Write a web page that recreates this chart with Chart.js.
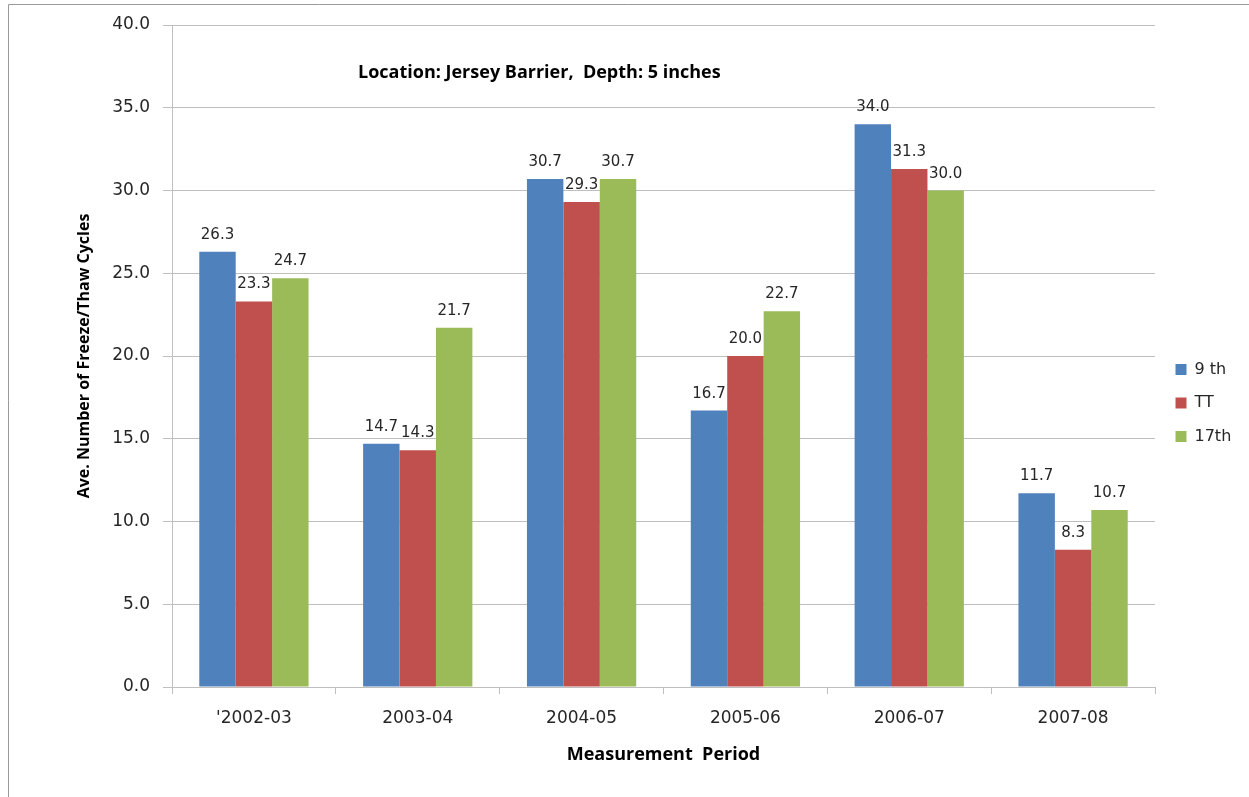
<!DOCTYPE html>
<html>
<head>
<meta charset="utf-8">
<script src="https://cdn.jsdelivr.net/npm/chart.js@4.4.1/dist/chart.umd.min.js"></script>
<style>
  html, body { margin: 0; padding: 0; background: #ffffff; }
  #wrap { position: relative; width: 1249px; height: 797px; }
</style>
</head>
<body>
<div id="wrap"><canvas id="c"></canvas></div>
<script>
const categories = ["'2002-03", "2003-04", "2004-05", "2005-06", "2006-07", "2007-08"];
const series9th = [26.3, 14.7, 30.7, 16.7, 34.0, 11.7];
const seriesTT = [23.3, 14.3, 29.3, 20.0, 31.3, 8.3];
const series17th = [24.7, 21.7, 30.7, 22.7, 30.0, 10.7];
const seriesNames = ["9 th", "TT", "17th"];
const yTicks = [0, 5, 10, 15, 20, 25, 30, 35, 40];
const chartNote = "Location: Jersey Barrier,  Depth: 5 inches";
const yTitle = "Ave. Number of Freeze/Thaw Cycles";
const xTitle = "Measurement  Period";

const TEXT = '#262626';
const GRID = '#bfbfbf';

const frame = {
  id: 'frame',
  beforeDraw(chart) {
    const ctx = chart.ctx;
    ctx.save();
    ctx.strokeStyle = '#9a9a9a';
    ctx.lineWidth = 1;
    ctx.beginPath();
    ctx.moveTo(8.5, 797);
    ctx.lineTo(8.5, 4.5);
    ctx.lineTo(1249, 4.5);
    ctx.stroke();
    ctx.restore();
  }
};

const note = {
  id: 'note',
  afterDraw(chart) {
    const ctx = chart.ctx;
    ctx.save();
    ctx.font = 'bold 18px "Open Sans"';
    ctx.fillStyle = '#000000';
    ctx.textAlign = 'left';
    ctx.textBaseline = 'middle';
    ctx.fillText(chartNote, 358, 73);
    ctx.restore();
  }
};

const valueLabels = {
  id: 'valueLabels',
  afterDatasetsDraw(chart) {
    const ctx = chart.ctx;
    ctx.save();
    ctx.font = '15px "DejaVu Sans"';
    ctx.fillStyle = TEXT;
    ctx.textAlign = 'center';
    ctx.textBaseline = 'alphabetic';
    chart.data.datasets.forEach((ds, i) => {
      const meta = chart.getDatasetMeta(i);
      meta.data.forEach((el, j) => {
        ctx.fillText(Number(ds.data[j]).toFixed(1), el.x, el.y - 13);
      });
    });
    ctx.restore();
  }
};

const legendPlace = {
  id: 'legendPlace',
  beforeInit(chart) {
    const lg = chart.legend;
    if (lg) {
      const orig = lg.fit;
      lg.fit = function () {
        orig.call(this);
        this.width = 94;
      };
    }
  },
  afterLayout(chart) {
    const lg = chart.legend;
    if (!lg) return;
    const h = lg.bottom - lg.top;
    lg.top = 344;
    lg.bottom = lg.top + h;
    lg.left += 3;
    lg.right += 3;
  }
};

new Chart(document.getElementById('c'), {
  type: 'bar',
  data: {
    labels: categories,
    datasets: [
      { label: seriesNames[0], data: series9th, backgroundColor: '#4F81BD', borderWidth: 0 },
      { label: seriesNames[1], data: seriesTT, backgroundColor: '#C0504D', borderWidth: 0 },
      { label: seriesNames[2], data: series17th, backgroundColor: '#9BBB59', borderWidth: 0 }
    ]
  },
  options: {
    responsive: true,
    maintainAspectRatio: false,
    animation: false,
    layout: { padding: { left: 0, right: 0, top: 25, bottom: 0 } },
    categoryPercentage: 0.667,
    barPercentage: 1.0,
    plugins: {
      tooltip: { enabled: false },
      title: { display: false },
      legend: {
        position: 'right',
        align: 'start',
        labels: {
          boxWidth: 11,
          boxHeight: 11,
          padding: 17.5,
          color: TEXT,
          font: { family: 'DejaVu Sans', size: 16 }
        }
      }
    },
    scales: {
      x: {
        afterFit(scale) { scale.height = 110; },
        grid: {
          display: true,
          drawOnChartArea: false,
          drawTicks: true,
          tickLength: 7,
          color: GRID,
          offset: true
        },
        border: { display: true, color: GRID },
        ticks: {
          color: TEXT,
          padding: 14,
          font: { family: 'DejaVu Sans', size: 17 }
        },
        title: {
          display: true,
          text: xTitle,
          color: '#000000',
          font: { family: 'Open Sans', size: 18, weight: 'bold' },
          padding: { top: 0, bottom: 31 }
        }
      },
      y: {
        min: 0,
        max: 40,
        afterFit(scale) { scale.width = 172; },
        afterBuildTicks(scale) { scale.ticks = yTicks.map(v => ({ value: v })); },
        grid: {
          color: GRID,
          drawTicks: true,
          tickLength: 9
        },
        border: { display: true, color: GRID },
        ticks: {
          color: TEXT,
          padding: 13,
          font: { family: 'DejaVu Sans', size: 17 },
          callback: (v) => Number(v).toFixed(1)
        },
        title: {
          display: true,
          text: yTitle,
          color: '#000000',
          font: { family: 'Open Sans', size: 16, weight: 'bold' },
          padding: { top: 75, bottom: 0 }
        }
      }
    }
  },
  plugins: [frame, note, valueLabels, legendPlace]
});
</script>
</body>
</html>
